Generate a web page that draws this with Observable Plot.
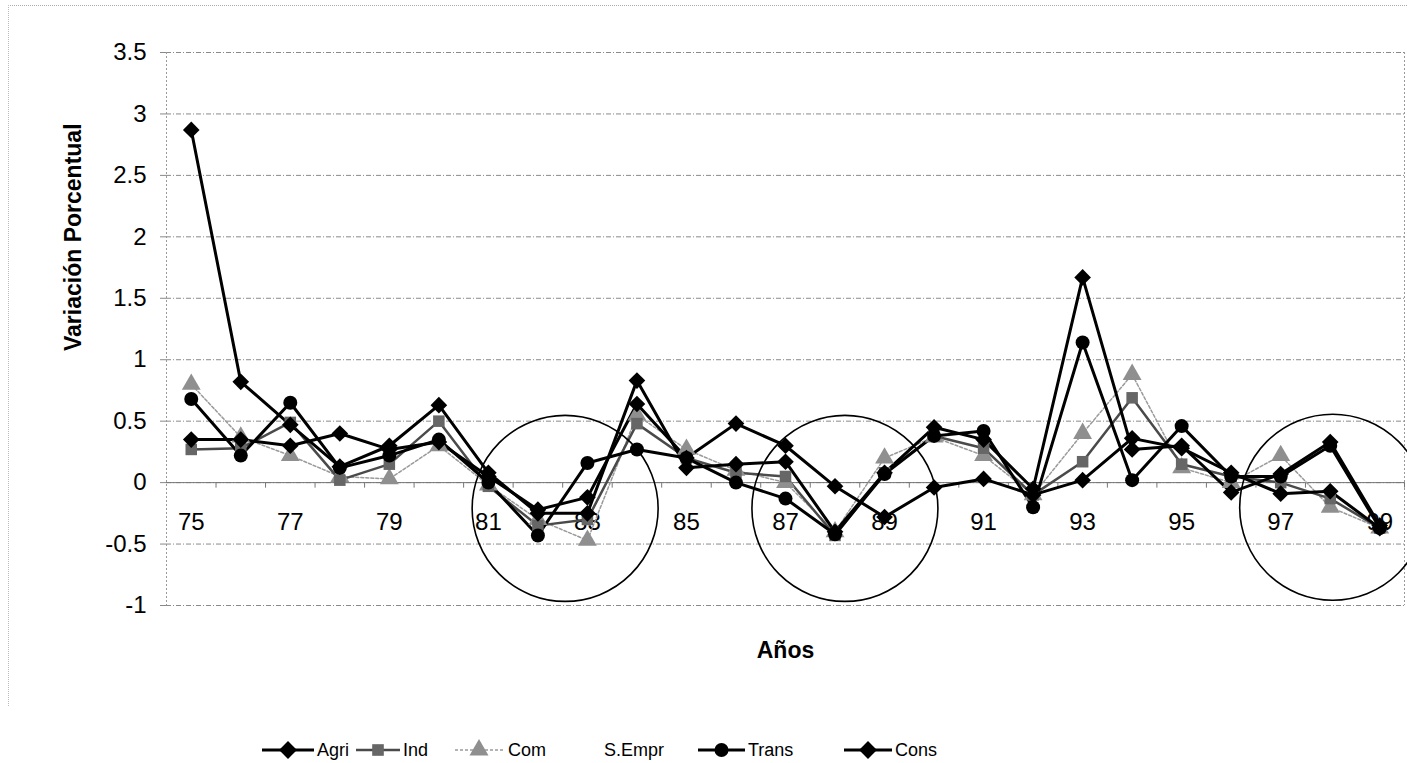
<!DOCTYPE html>
<html><head><meta charset="utf-8">
<script src="https://cdn.jsdelivr.net/npm/d3@7"></script>
<script src="https://cdn.jsdelivr.net/npm/@observablehq/plot@0.6"></script>
<style>
body{margin:0;background:#fff;font-family:"Liberation Sans",Arial,sans-serif;}
#wrap{position:relative;width:1407px;height:763px;overflow:hidden;}
#legend{position:absolute;left:0;top:734px;}
#border{position:absolute;left:8px;top:5px;width:1420px;height:700px;border-top:1px dotted #aaa;border-left:1px dotted #bbb;pointer-events:none;}
</style></head><body><div id="wrap"><div id="chart"></div><svg id="legend" width="1407" height="29"></svg><div id="border"></div></div>
<script>
const years = [75,76,77,78,79,80,81,82,83,84,85,86,87,88,89,90,91,92,93,94,95,96,97,98,99];
const agri  = [0.35,0.35,0.30,0.40,0.27,0.33,0.05,-0.22,-0.12,0.64,0.20,0.48,0.30,-0.03,-0.28,-0.04,0.03,-0.10,0.02,0.36,0.28,0.08,-0.09,-0.07,-0.37];
const ind   = [0.27,0.28,0.49,0.02,0.15,0.50,-0.03,-0.35,-0.30,0.48,0.20,0.08,0.05,-0.43,0.08,0.38,0.28,-0.10,0.17,0.69,0.15,0.05,0.00,-0.13,-0.37];
const com   = [0.80,0.37,0.22,0.05,0.03,0.30,-0.02,-0.30,-0.47,0.55,0.27,0.10,0.00,-0.40,0.20,0.37,0.22,-0.10,0.40,0.88,0.12,0.00,0.22,-0.20,-0.37];
const trans = [0.68,0.22,0.65,0.12,0.22,0.35,0.00,-0.43,0.16,0.27,0.20,0.00,-0.13,-0.42,0.07,0.38,0.42,-0.20,1.14,0.02,0.46,0.05,0.05,0.30,-0.37];
const cons  = [2.87,0.82,0.47,0.13,0.30,0.63,0.08,-0.25,-0.25,0.83,0.12,0.15,0.17,-0.40,0.08,0.45,0.35,-0.05,1.67,0.27,0.30,-0.08,0.07,0.33,-0.35];
const seriesNames = ["Agri","Ind","Com","S.Empr","Trans","Cons"];
const yTicks = [-1,-0.5,0,0.5,1,1.5,2,2.5,3,3.5];
const xLabels = [75,77,79,81,83,85,87,89,91,93,95,97,99];
const highlightCenters = [{x:82.55,y:-0.21},{x:88.2,y:-0.21},{x:98.05,y:-0.2}];

const styles = {
  Agri: {stroke:"#000", width:3, symbol:"diamond2", fill:"#000", r:7.5, dash:null},
  Ind:  {stroke:"#4a4a4a", width:2.5, symbol:"square", fill:"#666", r:6.5, dash:null},
  Com:  {stroke:"#9a9a9a", width:1.5, symbol:"triangle", fill:"#8f8f8f", r:7, dash:"3,2"},
  Trans:{stroke:"#000", width:3, symbol:"circle", fill:"#000", r:7, dash:null},
  Cons: {stroke:"#000", width:3, symbol:"diamond2", fill:"#000", r:7.5, dash:null}
};
const seriesData = {Agri:agri, Ind:ind, Com:com, Trans:trans, Cons:cons};
const drawOrder = ["Com","Ind","Trans","Agri","Cons"];
const rows = name => years.map((yr,i)=>({year:yr, value:seriesData[name][i], series:name}));
const bounds = years.map(y=>y+0.5);

const marks = [
  Plot.gridY(yTicks, {stroke:"#8a8a8a", strokeOpacity:1, strokeDasharray:"5,2,1,2", strokeWidth:1}),
  Plot.ruleX([74.5], {stroke:"#999", strokeDasharray:"2,2"}),
  Plot.ruleX([99.5], {stroke:"#999", strokeDasharray:"2,2"}),
  Plot.ruleY([0], {stroke:"#777", strokeWidth:1}),
  Plot.ruleX(bounds, {y1:0, y2:-0.045, stroke:"#777"}),
  Plot.axisY(yTicks, {tickFormat:d=>String(d), fontSize:24, tickSize:6, tickPadding:14, label:null, stroke:"#888"}),
  Plot.text(xLabels, {x:d=>d, y:0, dy:40, text:d=>String(d), fontSize:24, fill:"#000"}),
];
for (const name of drawOrder) {
  const s = styles[name];
  marks.push(Plot.line(rows(name), {x:"year", y:"value", stroke:s.stroke, strokeWidth:s.width, strokeDasharray:s.dash}));
}
for (const name of drawOrder) {
  const s = styles[name];
  marks.push(Plot.dot(rows(name), {x:"year", y:"value", symbol:()=>s.symbol, fill:s.fill, r:s.r, stroke:"none"}));
}
marks.push(Plot.dot(highlightCenters, {x:"x", y:"y", r:93, fill:"none", stroke:"#000", strokeWidth:1.6}));
marks.push(Plot.text(["Años"], {frameAnchor:"bottom", dy:52, fontSize:23, fontWeight:"bold", fill:"#000"}));
marks.push(Plot.text(["Variación Porcentual"], {frameAnchor:"left", dx:-93, dy:22, rotate:-90, fontSize:23, fontWeight:"bold", fill:"#000"}));

const chart = Plot.plot({
  width:1407, height:730,
  marginLeft:166, marginRight:3, marginTop:52, marginBottom:125,
  style:{fontFamily:"'Liberation Sans', Arial, sans-serif", background:"#fff", color:"#000", overflow:"visible"},
  x:{domain:[74.5,99.5], axis:null},
  y:{domain:[-1,3.5], axis:null},
  symbol:{type:"identity"},
  marks
});
document.getElementById("chart").appendChild(chart);

// legend
const lg = d3.select("#legend");
const items = [
  {name:"Agri", x0:262, x1:314, tx:317},
  {name:"Ind", x0:356, x1:400, tx:403},
  {name:"Com", x0:455, x1:503, tx:508},
  {name:"S.Empr", x0:555, x1:600, tx:604},
  {name:"Trans", x0:698, x1:745, tx:748},
  {name:"Cons", x0:844, x1:892, tx:895}
];
const cy = 16;
for (const it of items) {
  const s = styles[it.name];
  if (s) {
    lg.append("line").attr("x1",it.x0).attr("x2",it.x1).attr("y1",cy).attr("y2",cy)
      .attr("stroke",s.stroke).attr("stroke-width",s.width).attr("stroke-dasharray",s.dash);
    const sym = {diamond2:d3.symbolDiamond2, square:d3.symbolSquare, triangle:d3.symbolTriangle, circle:d3.symbolCircle}[s.symbol];
    const area = s.symbol==="circle" ? Math.PI*s.r*s.r : (s.symbol==="diamond2"? 4*s.r*s.r*0.9 : 3.2*s.r*s.r);
    lg.append("path").attr("d", d3.symbol(sym, area)()).attr("transform",`translate(${(it.x0+it.x1)/2},${cy})`).attr("fill",s.fill);
  }
  lg.append("text").attr("x",it.tx).attr("y",cy).attr("dy","0.35em").attr("font-size",18).attr("fill","#000").text(it.name);
}
</script>
</body></html>
